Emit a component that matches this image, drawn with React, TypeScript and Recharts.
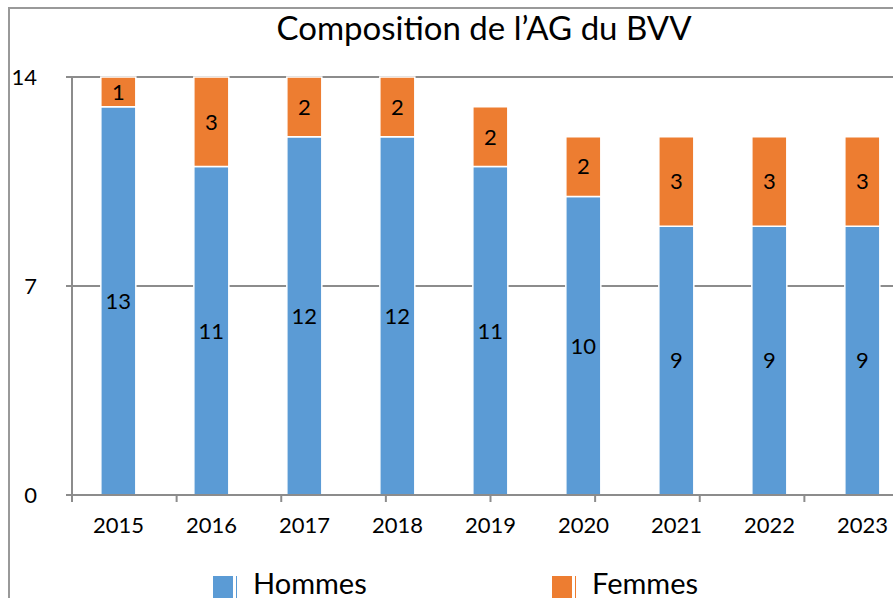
import React from 'react';
import { BarChart, Bar, XAxis, YAxis, CartesianGrid, LabelList } from 'recharts';

// ─── Composition de l'AG du BVV ──────────────────────────
const years = ['2015', '2016', '2017', '2018', '2019', '2020', '2021', '2022', '2023'];
const hommes = [13, 11, 12, 12, 11, 10, 9, 9, 9];
const femmes = [1, 3, 2, 2, 2, 2, 3, 3, 3];
const yTicks = [0, 7, 14];
const seriesNames = ['Hommes', 'Femmes'];
const boundaryTicks = years.map((_, i) => i).concat([years.length]);

const BLUE = '#5B9BD5';
const ORANGE = '#ED7D31';
const GRID = '#8c8c8c';
const FONT = 'Lato, "Open Sans", sans-serif';

const data = years.map((y, i) => ({ year: y, hommes: hommes[i], femmes: femmes[i] }));

export default function App() {
  return (
    <div style={{ position: 'absolute', left: 0, top: 0, width: 893, height: 598, overflow: 'hidden', background: '#fff', fontFamily: FONT }}>
      {/* chart frame (right & bottom edges are cropped) */}
      <div style={{ position: 'absolute', left: 8, top: 7, width: 1000, height: 700, borderLeft: '2px solid #999', borderTop: '2px solid #999' }} />

      <div style={{ position: 'absolute', left: 0, top: 7, width: 968, textAlign: 'center', fontSize: 33, color: '#000' }}>
        Composition de l’AG du BVV
      </div>

      <div style={{ position: 'absolute', left: 0, top: 0 }}>
        <BarChart
          width={920}
          height={598}
          data={data}
          barCategoryGap="31%"
          margin={{ top: 77, right: 11, left: 0, bottom: 0 }}
        >
          <CartesianGrid vertical={false} stroke={GRID} strokeWidth={2} />
          <XAxis
            xAxisId="bounds"
            type="number"
            domain={[0, years.length]}
            ticks={boundaryTicks}
            allowDataOverflow
            height={1}
            tickFormatter={() => ''}
            tickSize={7}
            stroke={GRID}
            axisLine={{ stroke: GRID, strokeWidth: 2 }}
            tickLine={{ stroke: GRID, strokeWidth: 2 }}
          />
          <XAxis
            xAxisId="cat"
            dataKey="year"
            height={102}
            axisLine={false}
            tickLine={false}
            tickMargin={15}
            tick={{ fontSize: 22, fill: '#000', fontFamily: FONT }}
          />
          <YAxis
            domain={[0, 14]}
            ticks={yTicks}
            width={72}
            tickSize={6}
            tickMargin={29}
            axisLine={{ stroke: GRID, strokeWidth: 2 }}
            tickLine={{ stroke: GRID, strokeWidth: 2 }}
            tick={{ fontSize: 22, fill: '#000', fontFamily: FONT }}
          />
          <Bar xAxisId="cat" dataKey="hommes" name={seriesNames[0]} stackId="a" fill={BLUE} stroke="#fff" strokeWidth={1.5} isAnimationActive={false}>
            <LabelList dataKey="hommes" position="center" fill="#000" fontSize={22} fontFamily={FONT} />
          </Bar>
          <Bar xAxisId="cat" dataKey="femmes" name={seriesNames[1]} stackId="a" fill={ORANGE} stroke="#fff" strokeWidth={1.5} isAnimationActive={false}>
            <LabelList dataKey="femmes" position="center" fill="#000" fontSize={22} fontFamily={FONT} />
          </Bar>
        </BarChart>
      </div>

      {/* legend */}
      {[BLUE, ORANGE].map((c, i) => (
        <div key={seriesNames[i]} style={{ position: 'absolute', left: i === 0 ? 213 : 552, top: 565, display: 'flex', alignItems: 'center' }}>
          <div style={{ width: 20, height: 22, background: c, marginTop: 8, borderRight: `3px solid #fff`, boxShadow: `1px 0 0 0 ${c}` }} />
          <span style={{ fontSize: 29, marginLeft: 17, color: '#000' }}>{seriesNames[i]}</span>
        </div>
      ))}
    </div>
  );
}
